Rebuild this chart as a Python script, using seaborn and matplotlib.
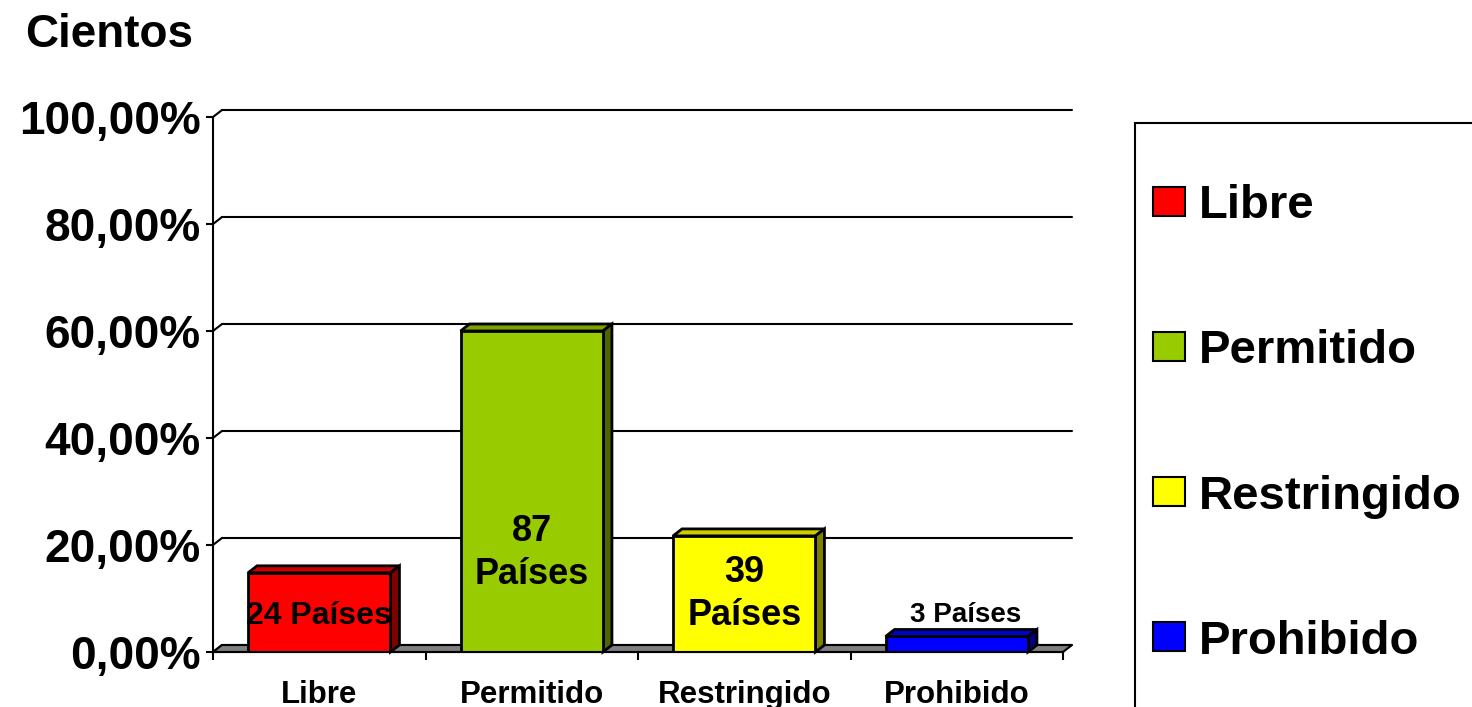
import matplotlib
matplotlib.use("Agg")
import matplotlib.pyplot as plt
import seaborn as sns
from matplotlib.patches import Polygon, Rectangle, Patch
from matplotlib.ticker import FuncFormatter

# DATA
categorias = ["Libre", "Permitido", "Restringido", "Prohibido"]
porcentajes = [14.8, 60.0, 21.7, 2.9]
etiquetas = ["24 Países", "87\nPaíses", "39\nPaíses", "3 Países"]
colores = ["#FF0000", "#99CC00", "#FFFF00", "#0000FF"]
y_ticks = [0, 20, 40, 60, 80, 100]

# CONFIG
sns.set_theme(style="white")
plt.rcParams["font.family"] = ["Liberation Sans", "DejaVu Sans"]
plt.rcParams["font.weight"] = "bold"
plt.rcParams["text.color"] = "black"
plt.rcParams["xtick.color"] = "black"
plt.rcParams["ytick.color"] = "black"
plt.rcParams["axes.labelcolor"] = "black"

fig = plt.figure(figsize=(14.72, 7.07), dpi=100)
ax = fig.add_axes([213 / 1472, 55 / 707, 850 / 1472, 535 / 707])

# profundidad 3D (unidades de datos)
DX = 9 / 212.5
DY = 7 / 5.35

def oscuro(c, f):
    r, g, b = matplotlib.colors.to_rgb(c)
    return (r * f, g * f, b * f)

# ==============================
# BARRAS
# ==============================
sns.barplot(x=categorias, y=porcentajes, hue=categorias, palette=colores,
            width=0.67, edgecolor="black", linewidth=2, legend=False,
            saturation=1, ax=ax, zorder=4)

barras = [b for c in ax.containers for b in c]

for p, col in zip(barras, colores):
    x0 = p.get_x()
    x1 = x0 + p.get_width()
    h = p.get_height()
    top = Polygon([(x0, h), (x1, h), (x1 + DX, h + DY), (x0 + DX, h + DY)],
                  closed=True, facecolor=oscuro(col, 0.8), edgecolor="black",
                  lw=2, clip_on=False, zorder=3)
    side = Polygon([(x1, 0), (x1 + DX, DY), (x1 + DX, h + DY), (x1, h)],
                   closed=True, facecolor=oscuro(col, 0.5), edgecolor="black",
                   lw=2, clip_on=False, zorder=3)
    ax.add_patch(top)
    ax.add_patch(side)

# ==============================
# PARED / SUELO / GRID
# ==============================
for t in y_ticks:
    ax.plot([-0.5 + DX, 3.5 + DX], [t + DY, t + DY], color="black", lw=1.5,
            clip_on=False, zorder=1)
    ax.plot([-0.5, -0.5 + DX], [t, t + DY], color="black", lw=1.5,
            clip_on=False, zorder=1)

suelo = Polygon([(-0.5, 0), (3.5, 0), (3.5 + DX, DY), (-0.5 + DX, DY)],
                closed=True, facecolor="#808080", edgecolor="black", lw=1.5,
                clip_on=False, zorder=2)
ax.add_patch(suelo)

# etiquetas de valores
for i, (v, txt) in enumerate(zip(porcentajes, etiquetas)):
    if v < 5:
        ax.text(i + DX, v + DY + 0.3, txt, ha="center", va="bottom",
                fontsize=20, fontweight="bold", zorder=6)
    elif "\n" in txt:
        ax.text(i, min(v / 2, 18.5), txt, ha="center", va="center",
                fontsize=26, fontweight="bold", linespacing=1.32, zorder=6)
    else:
        ax.text(i, v / 2 - 0.6, txt, ha="center", va="center",
                fontsize=23, fontweight="bold", zorder=6)

# ==============================
# EJES
# ==============================
ax.set_xlim(-0.5, 3.5)
ax.set_ylim(0, 100)
ax.set_yticks(y_ticks)
ax.yaxis.set_major_formatter(FuncFormatter(lambda v, pos: f"{v:.2f}%".replace(".", ",")))
ax.set_xticks(range(len(categorias)))
ax.set_xticklabels(categorias)
ax.set_xticks([-0.5, 0.5, 1.5, 2.5, 3.5], minor=True)

ax.tick_params(axis="y", which="major", direction="out", length=5, width=1.5,
               color="black", left=True, labelsize=33, pad=4)
ax.tick_params(axis="x", which="major", length=0, labelsize=22.5, pad=20)
ax.tick_params(axis="x", which="minor", direction="out", length=6, width=1.5,
               color="black", bottom=True)
for lab in ax.get_yticklabels() + ax.get_xticklabels():
    lab.set_fontweight("bold")

ax.grid(False)
for s in ["top", "right"]:
    ax.spines[s].set_visible(False)
for s in ["left", "bottom"]:
    ax.spines[s].set_color("black")
    ax.spines[s].set_linewidth(1.5)
ax.spines["bottom"].set_zorder(5)
ax.patch.set_alpha(0)

fig.text(25 / 1472, 1 - 35 / 707, "Cientos", fontsize=33, fontweight="bold",
         ha="left", va="center")

# ==============================
# LEYENDA
# ==============================
handles = [Patch(facecolor=c, edgecolor="black", linewidth=1.5) for c in colores]
fig.legend(handles, categorias, loc="center left",
           bbox_to_anchor=(1153 / 1472, 1 - 424 / 707), frameon=False,
           prop={"size": 34, "weight": "bold"}, handlelength=0.68,
           handleheight=0.57, handletextpad=0.3, labelspacing=2.14,
           borderpad=0, borderaxespad=0)
fig.patches.append(Rectangle((1135 / 1472, -0.1), 0.5, 1.1 - 123 / 707,
                             transform=fig.transFigure, fill=False,
                             edgecolor="black", lw=1.5))

fig.savefig("out.png", dpi=100)
plt.close(fig)
